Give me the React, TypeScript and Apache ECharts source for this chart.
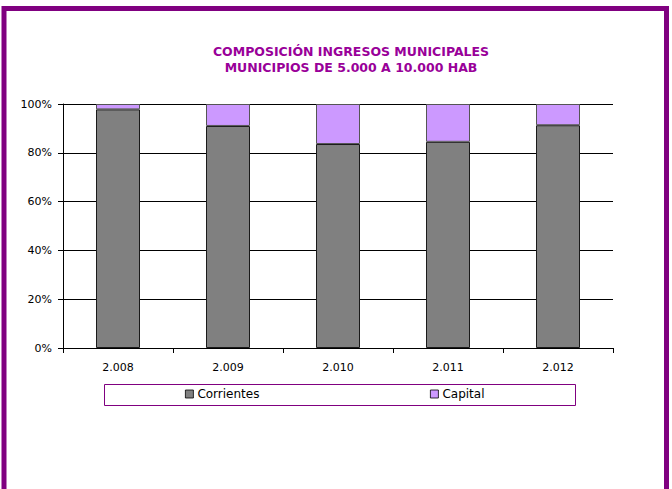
import React, { useEffect, useRef } from "react";
import * as echarts from "echarts";

const categories = ["2.008", "2.009", "2.010", "2.011", "2.012"];
const corrientes = [97.8, 91.0, 83.6, 84.5, 91.3];
const capital = [2.2, 9.0, 16.4, 15.5, 8.7];
const yTicks = [0, 20, 40, 60, 80, 100];
const titleLines = ["COMPOSICIÓN INGRESOS MUNICIPALES", "MUNICIPIOS DE 5.000 A 10.000 HAB"];
const seriesNames = ["Corrientes", "Capital"];

const PURPLE = "#800080";
const TITLE = "#990099";
const GREY = "#808080";
const LILAC = "#CC99FF";
const FONT = "'DejaVu Sans', Verdana, sans-serif";

export default function App() {
  const ref = useRef<HTMLDivElement>(null);
  useEffect(() => {
    if (!ref.current) return;
    const chart = echarts.init(ref.current, null, { renderer: "svg" });
    chart.setOption({
      animation: false,
      backgroundColor: "#ffffff",
      title: {
        text: titleLines.join("\n"),
        left: 346,
        textAlign: "center",
        top: 39,
        textStyle: { color: TITLE, fontSize: 12.5, fontWeight: "bold", fontFamily: FONT, lineHeight: 15.5 },
      },
      grid: { left: 63, right: 59, top: 104, bottom: 141, containLabel: false },
      xAxis: {
        type: "category",
        data: categories,
        axisLine: { show: true, lineStyle: { color: "#000", width: 1 } },
        axisTick: { show: true, length: 5, inside: false, lineStyle: { color: "#000" }, alignWithLabel: false },
        axisLabel: { color: "#000", fontSize: 11, fontFamily: FONT, margin: 14 },
        splitLine: { show: false },
      },
      yAxis: {
        type: "value",
        min: 0,
        max: 100,
        interval: 20,
        axisLine: { show: true, lineStyle: { color: "#000", width: 1 } },
        axisTick: { show: true, length: 5, lineStyle: { color: "#000" } },
        axisLabel: {
          color: "#000",
          fontSize: 11,
          fontFamily: FONT,
          margin: 11,
          formatter: (v: number) => (yTicks.includes(v) ? v + "%" : ""),
        },
        splitLine: { show: true, lineStyle: { color: "#000", width: 1 } },
      },
      legend: [
        {
          data: [seriesNames[0]],
          left: 185,
          top: 388,
          itemWidth: 8,
          itemHeight: 8,
          padding: 0,
          icon: "rect",
          textStyle: { color: "#000", fontSize: 12, fontFamily: FONT, padding: [0, 0, 0, -1] },
          itemStyle: { borderColor: "#000", borderWidth: 0.8 },
        },
        {
          data: [seriesNames[1]],
          left: 430,
          top: 388,
          itemWidth: 8,
          itemHeight: 8,
          padding: 0,
          icon: "rect",
          textStyle: { color: "#000", fontSize: 12, fontFamily: FONT, padding: [0, 0, 0, -1] },
          itemStyle: { borderColor: "#000", borderWidth: 0.8 },
        },
      ],
      graphic: [
        {
          type: "rect",
          shape: { x: 4, y: 8.5, width: 662.5, height: 500 },
          style: { fill: "none", stroke: PURPLE, lineWidth: 5 },
          silent: true,
        },
        {
          type: "rect",
          shape: { x: 104.5, y: 384.5, width: 471, height: 21 },
          style: { fill: "none", stroke: PURPLE, lineWidth: 1 },
          silent: true,
        },
      ],
      series: [
        {
          name: seriesNames[0],
          type: "bar",
          stack: "total",
          data: corrientes,
          barWidth: "40%",
          itemStyle: { color: GREY, borderColor: "#1a1a1a", borderWidth: 1 },
        },
        {
          name: seriesNames[1],
          type: "bar",
          stack: "total",
          data: capital,
          barWidth: "40%",
          itemStyle: { color: LILAC, borderColor: "#555", borderWidth: 1 },
        },
      ],
    });
    return () => chart.dispose();
  }, []);
  return (
    <div
      ref={ref}
      style={{ position: "fixed", left: 0, top: 0, width: 672, height: 489 }}
    />
  );
}
